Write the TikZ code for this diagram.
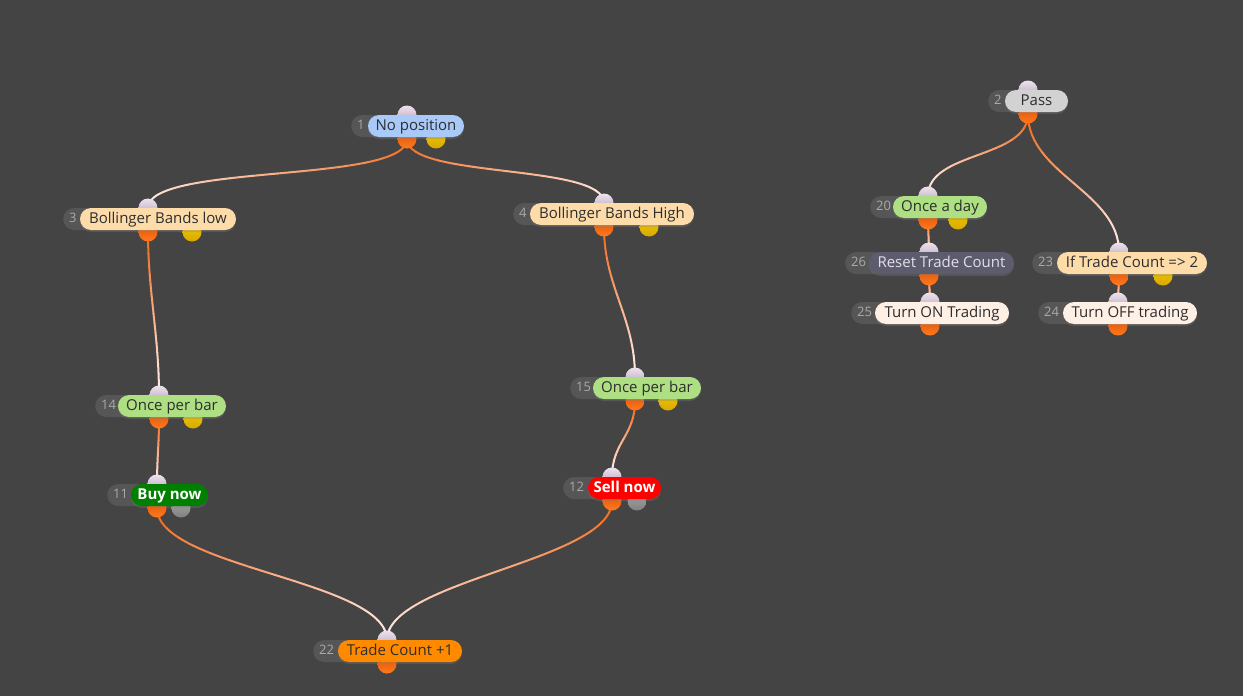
\documentclass[tikz,border=0pt]{standalone}
\usepackage{fontspec}
\setmainfont{Open Sans}
\usetikzlibrary{shadows}
\pgfdeclarelayer{back}
\pgfdeclarelayer{bg}
\pgfsetlayers{back,bg,main}
\definecolor{bgc}{HTML}{444444}
\definecolor{numgray}{HTML}{565656}
\definecolor{numtext}{HTML}{AAAAAA}
\definecolor{txtdark}{HTML}{2E2E2E}
\definecolor{cblue}{HTML}{A9C9F9}
\definecolor{cpeach}{HTML}{FDDCAA}
\definecolor{cgreen}{HTML}{AEDF82}
\definecolor{cbuy}{HTML}{008000}
\definecolor{csell}{HTML}{FF0000}
\definecolor{corange}{HTML}{FF8A00}
\definecolor{cpass}{HTML}{D2D2D2}
\definecolor{cslate}{HTML}{5D5B6E}
\definecolor{cslatetxt}{HTML}{E2DEEA}
\definecolor{ccream}{HTML}{FFF0E6}
\definecolor{intop}{HTML}{EEE2EE}
\definecolor{inbot}{HTML}{B0A0B8}
\definecolor{outtop}{HTML}{E04E00}
\definecolor{outbot}{HTML}{FF7A20}
\definecolor{yeltop}{HTML}{F2CC00}
\definecolor{yelbot}{HTML}{D8A800}
\definecolor{gtop}{HTML}{A8A8A8}
\definecolor{gbot}{HTML}{808080}
\definecolor{wireo}{HTML}{F26514}
\definecolor{wirep}{HTML}{FFF0F0}
\tikzset{
  numpill/.style={fill=numgray, rounded corners=11pt, minimum height=22pt, inner xsep=6pt, inner ysep=0pt,
    anchor=west, text=numtext, font=\fontsize{13}{13}\selectfont, align=left, text height=9.5pt, text depth=2.5pt},
  pill/.style={rounded corners=11pt, minimum height=22pt, inner xsep=0pt, inner ysep=0pt, text=txtdark,
    font=\fontsize{15}{15}\selectfont, text height=11.5pt, text depth=3.5pt,
    drop shadow={opacity=0.3, shadow xshift=0pt, shadow yshift=-2pt}},
  inport/.style={circle, minimum size=19pt, inner sep=0pt, top color=intop, bottom color=inbot},
  outport/.style={circle, minimum size=19pt, inner sep=0pt, top color=outtop, bottom color=outbot},
  yport/.style={circle, minimum size=19pt, inner sep=0pt, top color=yeltop, bottom color=yelbot},
  gport/.style={circle, minimum size=19pt, inner sep=0pt, top color=gtop, bottom color=gbot},
  wireseg/.style={line width=2pt, line cap=round},
  bold white/.style={text=white, font=\fontsize{15}{15}\selectfont\bfseries}
}
% name, y, darkleft, colleft, colright, number, text, style, portx
\newcommand\flownode[9]{%
  \pgfmathsetmacro\fnw{#4-#3+4}%
  \pgfmathsetmacro\fnc{(#4+#5)/2}%
  \pgfmathsetmacro\fnpw{#5-#4}%
  \node[inport] (#1i) at (#9,#2-11) {};
  \node[outport] (#1o) at (#9,#2+13) {};
  \node[numpill, text width=\fnw pt] (#1n) at (#3,#2) {#6};
  \node[pill, #8, minimum width=\fnpw pt] (#1) at (\fnc,#2) {#7};
}
% point and derivative of the cubic at parameter t
\newcommand\bezpt[1]{%
  \pgfmathsetmacro\bu{1-#1}%
  \pgfmathsetmacro\bzx{\bu*\bu*\bu*(\Pax)+3*\bu*\bu*#1*(\Pbx)+3*\bu*#1*#1*(\Pcx)+#1*#1*#1*(\Pdx)}%
  \pgfmathsetmacro\bzy{\bu*\bu*\bu*(\Pay)+3*\bu*\bu*#1*(\Pby)+3*\bu*#1*#1*(\Pcy)+#1*#1*#1*(\Pdy)}%
  \pgfmathsetmacro\bdx{3*\bu*\bu*((\Pbx)-(\Pax))+6*\bu*#1*((\Pcx)-(\Pbx))+3*#1*#1*((\Pdx)-(\Pcx))}%
  \pgfmathsetmacro\bdy{3*\bu*\bu*((\Pby)-(\Pay))+6*\bu*#1*((\Pcy)-(\Pby))+3*#1*#1*((\Pdy)-(\Pcy))}%
}
\newcommand\wire[3]{%
  \pgfpointanchor{#1}{center}\pgfgetlastxy{\wax}{\way}%
  \pgfpointanchor{#2}{center}\pgfgetlastxy{\wbx}{\wby}%
  \pgfmathsetmacro\Pax{\wax}\pgfmathsetmacro\Pay{\way}%
  \pgfmathsetmacro\Pdx{\wbx}\pgfmathsetmacro\Pdy{\wby}%
  \pgfmathsetmacro\Pbx{\Pax}\pgfmathsetmacro\Pby{\Pay-#3}%
  \pgfmathsetmacro\Pcx{\Pdx}\pgfmathsetmacro\Pcy{\Pdy+#3}%
  \foreach \i in {0,...,15}{%
    \pgfmathsetmacro\ta{\i/16}%
    \pgfmathsetmacro\tb{(\i+1)/16}%
    \bezpt{\ta}%
    \let\sax\bzx \let\say\bzy
    \pgfmathsetmacro\cax{\bzx+\bdx/48}\pgfmathsetmacro\cay{\bzy+\bdy/48}%
    \bezpt{\tb}%
    \pgfmathsetmacro\cbx{\bzx-\bdx/48}\pgfmathsetmacro\cby{\bzy-\bdy/48}%
    \pgfmathtruncatemacro\pc{100-100*(\i+0.5)/16}%
    \draw[wireseg, draw=wireo!\pc!wirep] (\sax pt,\say pt) .. controls (\cax pt,\cay pt) and (\cbx pt,\cby pt) .. (\bzx pt,\bzy pt);
  }%
}
\begin{document}
\begin{tikzpicture}[x=1pt,y=-1pt]
\useasboundingbox (0,0) rectangle (1243,696);
\begin{pgfonlayer}{back}
\fill[bgc] (0,0) rectangle (1243,696);
\end{pgfonlayer}
% extra output ports
\node[yport] (n1y) at (436,139) {};
\node[yport] (n3y) at (192,232) {};
\node[yport] (n4y) at (649,227) {};
\node[yport] (n14y) at (193,419) {};
\node[yport] (n15y) at (668,401) {};
\node[gport] (n11g) at (181,508) {};
\node[gport] (n12g) at (637,501) {};
\node[yport] (n20y) at (958,220) {};
\node[yport] (n23y) at (1163,276) {};
% nodes
\flownode{n1}{126}{351}{368}{464}{1}{No position}{fill=cblue}{407}
\flownode{n3}{219}{63}{80}{236}{3}{Bollinger Bands low}{fill=cpeach}{148}
\flownode{n4}{214}{513}{530}{694}{4}{Bollinger Bands High}{fill=cpeach}{604}
\flownode{n14}{406}{95}{118}{226}{14}{Once per bar}{fill=cgreen}{159}
\flownode{n15}{388}{570}{593}{701}{15}{Once per bar}{fill=cgreen}{635}
\flownode{n11}{495}{107}{131}{208}{11}{Buy now}{fill=cbuy, bold white}{157}
\flownode{n12}{488}{563}{588}{661}{12}{Sell now}{fill=csell, bold white}{612}
\flownode{n22}{651}{313}{338}{462}{22}{Trade Count +1}{fill=corange}{387}
\flownode{n2}{101}{988}{1005}{1068}{2}{Pass}{fill=cpass}{1028}
\flownode{n20}{207}{870}{893}{987}{20}{Once a day}{fill=cgreen}{928}
\flownode{n26}{263}{845}{869}{1014}{26}{Reset Trade Count}{fill=cslate, text=cslatetxt}{929}
\flownode{n25}{313}{851}{875}{1009}{25}{Turn ON Trading}{fill=ccream}{930}
\flownode{n23}{263}{1032}{1057}{1207}{23}{If Trade Count => 2}{fill=cpeach}{1119}
\flownode{n24}{313}{1038}{1063}{1197}{24}{Turn OFF trading}{fill=ccream}{1118}
% connectors
\begin{pgfonlayer}{bg}
\wire{n1o}{n3i}{45}
\wire{n1o}{n4i}{40}
\wire{n3o}{n14i}{60}
\wire{n4o}{n15i}{60}
\wire{n15o}{n12i}{35}
\wire{n11o}{n22i}{60}
\wire{n12o}{n22i}{60}
\wire{n2o}{n20i}{45}
\wire{n2o}{n23i}{60}
\wire{n14o}{n11i}{25}
\wire{n20o}{n26i}{8}
\wire{n26o}{n25i}{8}
\wire{n23o}{n24i}{8}
\end{pgfonlayer}
\end{tikzpicture}
\end{document}
